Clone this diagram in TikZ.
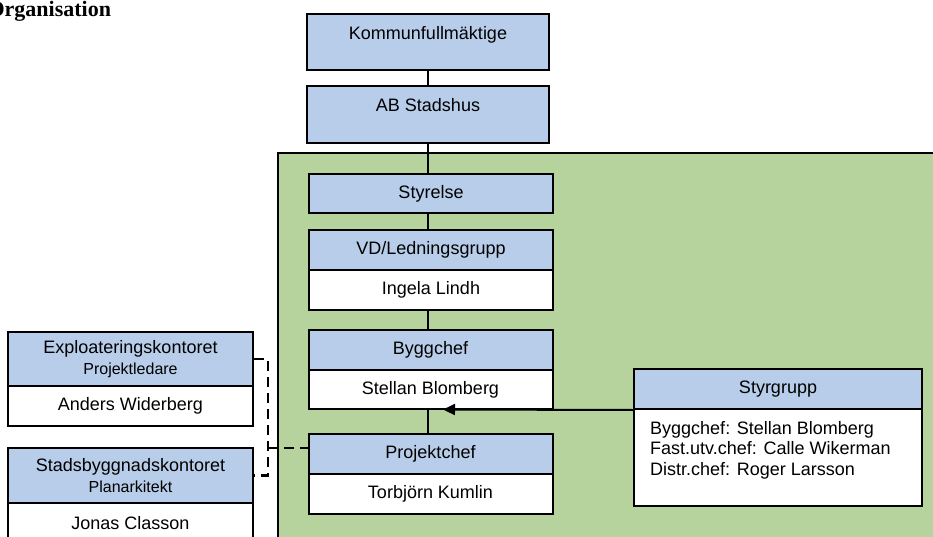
\documentclass[tikz,border=0pt]{standalone}
\usepackage{fontspec}
\setmainfont{Liberation Sans}
\newfontfamily\titlefont{Liberation Serif}
\usetikzlibrary{arrows.meta}
\definecolor{unitblue}{RGB}{184,205,233}
\definecolor{bolaggreen}{RGB}{182,211,157}
\newcommand{\bigtxt}{\fontsize{18}{20.5}\selectfont}
\newcommand{\smalltxt}{\fontsize{16}{18}\selectfont}
\begin{document}
\begin{tikzpicture}[x=1pt,y=-1pt,
  unitbox/.style={draw,fill=unitblue,line width=2pt,inner sep=0pt,minimum width=244pt,minimum height=40pt,font=\bigtxt},
  personbox/.style={unitbox,fill=white},
  topbox/.style={unitbox,minimum width=242pt,anchor=north,text height=25.5pt,text depth=31pt},
  orgline/.style={line width=2.4pt},
  dashline/.style={line width=2.4pt,dash pattern=on 10pt off 6pt}]
\clip (0,0) rectangle (933,537);
\fill[bolaggreen,draw=black,line width=2pt] (278,153) rectangle (950,560);
\node[anchor=base west,font=\titlefont\fontsize{22}{24}\selectfont\bfseries] (title) at (-16,17) {Organisation};
\node[topbox] (kommun) at (428,13) {Kommunfullmäktige};
\node[topbox,text depth=31.5pt] (abstad) at (428,85) {AB Stadshus};
\node[unitbox,minimum height=39pt] (styrelse) at (431,193.5) {Styrelse};
\node[unitbox] (vd) at (431,250) {VD/Ledningsgrupp};
\node[personbox] (vdname) at (431,290) {Ingela Lindh};
\node[unitbox] (bygg) at (430.5,350) {Byggchef};
\node[personbox,minimum height=39pt] (byggname) at (430.5,389.5) {Stellan Blomberg};
\node[unitbox] (proj) at (430.5,454) {Projektchef};
\node[personbox] (projname) at (430.5,494) {Torbjörn Kumlin};
\node[unitbox,minimum width=245pt,minimum height=54pt,align=center] (expl) at (130.5,359) {Exploateringskontoret\\{\smalltxt Projektledare}};
\node[personbox,minimum width=245pt] (explname) at (130.5,406) {Anders Widerberg};
\node[unitbox,minimum width=245pt,minimum height=55pt,align=center] (stad) at (130.5,475.5) {Stadsbyggnadskontoret\\{\smalltxt Planarkitekt}};
\node[personbox,minimum width=245pt] (stadname) at (130.5,523) {Jonas Classon};
\node[unitbox,minimum width=288pt] (styr) at (778,389) {Styrgrupp};
\node[personbox,minimum width=288pt,minimum height=97pt] (styrbody) at (778,457.5) {};
\node[anchor=north west,align=left,font=\bigtxt,inner sep=0pt] (styrtext) at (650,421) {Byggchef: Stellan Blomberg\\Fast.utv.chef: Calle Wikerman\\Distr.chef: Roger Larsson};
\coordinate (styrtip) at (443,409.5);
\coordinate (samrad) at (268,448);
\draw[orgline] (kommun) -- (abstad);
\draw[orgline] (abstad.south) -- (abstad.south |- styrelse.north);
\draw[orgline] (abstad.south |- styrelse.south) -- (abstad.south |- vd.north);
\draw[orgline] (abstad.south |- vdname.south) -- (abstad.south |- bygg.north);
\draw[orgline] (abstad.south |- byggname.south) -- (abstad.south |- proj.north);
\draw[orgline,line width=2pt,-{Triangle[length=12pt,width=11pt]}] (styr.south west) -- (styrtip);
\draw[dashline] (expl.east) -| (samrad |- stad.east) -- (stad.east);
\draw[dashline] (samrad) -- (samrad -| proj.west);
\end{tikzpicture}
\end{document}
